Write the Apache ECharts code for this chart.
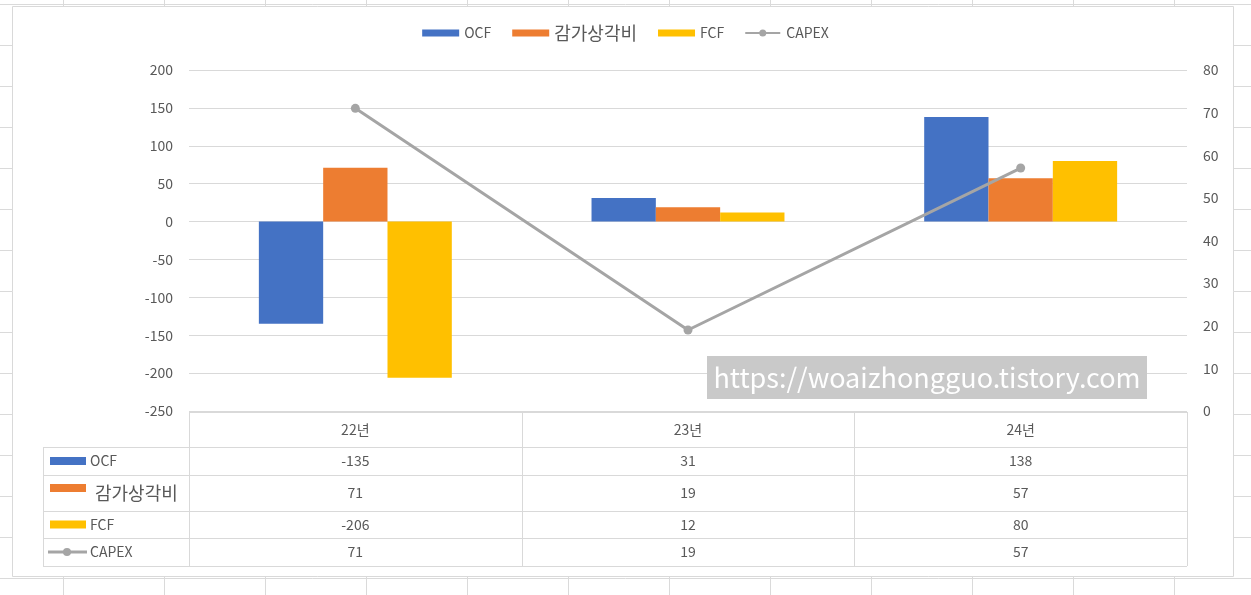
<!DOCTYPE html>
<html>
<head>
<meta charset="utf-8">
<script src="https://cdn.jsdelivr.net/npm/echarts@6/dist/echarts.min.js"></script>
<style>
  html, body { margin: 0; padding: 0; background: #fff; }
  #chart { width: 1251px; height: 595px; }
</style>
</head>
<body>
<div id="chart"></div>
<script>
// ---- data ----
const categories = ['22년', '23년', '24년'];
const seriesNames = ['OCF', '감가상각비', 'FCF', 'CAPEX'];
const ocf = [-135, 31, 138];
const depreciation = [71, 19, 57];
const fcf = [-206, 12, 80];
const capex = [71, 19, 57];
const leftAxis = { min: -250, max: 200, interval: 50 };
const rightAxis = { min: 0, max: 80, interval: 10 };
const watermark = 'https://woaizhongguo.tistory.com';

// ---- styling / layout ----
const COLORS = ['#4472C4', '#ED7D31', '#FFC000', '#A5A5A5'];
const TEXT = '#595959';
const LINE = '#D9D9D9';
const FONT = "'Noto Sans CJK KR', 'Noto Sans', sans-serif";
const PLOT_L = 189, PLOT_R = 1187, PLOT_T = 70, PLOT_B = 411;
const TABLE_KEY_L = 43;
const HEADER = [412, 447];
const ROWS = [[447, 475], [475, 511], [511, 538], [538, 566]];
const W = 1251, H = 595;
// line-with-marker key for the CAPEX legend entry
const LINE_MARKER_ICON = 'path://M0,2.8L40,2.8L40,5.2L0,5.2Z M16,4A4,4 0 1,1 24,4A4,4 0 1,1 16,4Z';

const chart = echarts.init(document.getElementById('chart'));
const graphics = [];

// spreadsheet cell grid behind the chart area
for (let y = 4; y < H; y += 41) {
  graphics.push({ type: 'line', z: -20, silent: true,
    shape: { x1: 0, y1: y + 0.5, x2: W, y2: y + 0.5 },
    style: { stroke: '#DADADA', lineWidth: 1 } });
}
for (let x = 63; x < W; x += 101) {
  graphics.push({ type: 'line', z: -20, silent: true,
    shape: { x1: x + 0.5, y1: 0, x2: x + 0.5, y2: H },
    style: { stroke: '#DADADA', lineWidth: 1 } });
}
// chart area
graphics.push({ type: 'rect', z: -10, silent: true,
  shape: { x: 12.5, y: 6.5, width: 1221, height: 570 },
  style: { fill: '#fff', stroke: LINE, lineWidth: 1 } });

// data table
const colW = (PLOT_R - PLOT_L) / categories.length;
function hline(y, x1, x2) {
  graphics.push({ type: 'line', z: 1, silent: true,
    shape: { x1: x1, y1: y + 0.5, x2: x2, y2: y + 0.5 },
    style: { stroke: LINE, lineWidth: 1 } });
}
function vline(x, y1, y2) {
  graphics.push({ type: 'line', z: 1, silent: true,
    shape: { x1: x + 0.5, y1: y1, x2: x + 0.5, y2: y2 },
    style: { stroke: LINE, lineWidth: 1 } });
}
hline(HEADER[0], PLOT_L, PLOT_R);
ROWS.forEach(r => hline(r[0], TABLE_KEY_L, PLOT_R));
hline(ROWS[ROWS.length - 1][1], TABLE_KEY_L, PLOT_R);
for (let i = 0; i <= categories.length; i++) {
  vline(Math.round(PLOT_L + i * colW), HEADER[0], ROWS[ROWS.length - 1][1]);
}
vline(TABLE_KEY_L, ROWS[0][0], ROWS[ROWS.length - 1][1]);

const tableValues = [ocf, depreciation, fcf, capex];
tableValues.forEach((vals, r) => {
  const cy = (ROWS[r][0] + ROWS[r][1]) / 2;
  const isKr = r === 1;
  // legend key
  if (r < 3) {
    const ky = isKr ? cy - 9 : cy - 4;
    graphics.push({ type: 'rect', z: 2, silent: true,
      shape: { x: 50, y: ky, width: 36, height: 8 },
      style: { fill: COLORS[r] } });
  } else {
    graphics.push({ type: 'line', z: 2, silent: true,
      shape: { x1: 48, y1: cy, x2: 87, y2: cy },
      style: { stroke: COLORS[3], lineWidth: 3 } });
    graphics.push({ type: 'circle', z: 3, silent: true,
      shape: { cx: 67, cy: cy, r: 4 },
      style: { fill: COLORS[3] } });
  }
  graphics.push({ type: 'text', z: 2, silent: true,
    x: isKr ? 95 : 90, y: cy,
    style: { text: seriesNames[r], fill: TEXT, font: (isKr ? '18px ' : '14px ') + FONT,
      verticalAlign: 'middle', align: 'left' } });
  vals.forEach((v, c) => {
    graphics.push({ type: 'text', z: 2, silent: true,
      x: PLOT_L + (c + 0.5) * colW, y: cy,
      style: { text: String(v), fill: TEXT, font: '14px ' + FONT,
        verticalAlign: 'middle', align: 'center' } });
  });
});

// blog address banner
graphics.push({ type: 'rect', z: 10, silent: true,
  shape: { x: 707, y: 356, width: 440, height: 43 },
  style: { fill: '#C9C9C9' } });
graphics.push({ type: 'text', z: 11, silent: true,
  x: 927, y: 378,
  style: { text: watermark, fill: '#fff', font: '27px ' + FONT,
    align: 'center', verticalAlign: 'middle' } });

const barBase = { type: 'bar', yAxisIndex: 0, barGap: '0%', barCategoryGap: '42%' };

chart.setOption({
  animation: false,
  textStyle: { fontFamily: FONT, color: TEXT },
  legend: {
    top: 19, left: 'center', itemWidth: 37, itemHeight: 7, itemGap: 21,
    textStyle: { color: TEXT, fontSize: 14, fontFamily: FONT },
    data: [
      { name: 'OCF', icon: 'rect' },
      { name: '감가상각비', icon: 'rect', textStyle: { fontSize: 18 } },
      { name: 'FCF', icon: 'rect' },
      { name: 'CAPEX', icon: LINE_MARKER_ICON, itemStyle: { color: COLORS[3] } }
    ]
  },
  grid: { left: PLOT_L, right: W - PLOT_R, top: PLOT_T, height: PLOT_B - PLOT_T, containLabel: false },
  xAxis: {
    type: 'category', data: categories,
    axisLine: { show: false }, axisTick: { show: false },
    axisLabel: { color: TEXT, fontSize: 14, margin: 19, verticalAlign: 'middle' }
  },
  yAxis: [
    { type: 'value', min: leftAxis.min, max: leftAxis.max, interval: leftAxis.interval,
      axisLine: { show: false }, axisTick: { show: false },
      axisLabel: { color: TEXT, fontSize: 14, margin: 16 },
      splitLine: { lineStyle: { color: LINE, width: 1 } } },
    { type: 'value', min: rightAxis.min, max: rightAxis.max, interval: rightAxis.interval,
      position: 'right',
      axisLine: { show: false }, axisTick: { show: false },
      axisLabel: { color: TEXT, fontSize: 14, margin: 16 },
      splitLine: { show: false } }
  ],
  series: [
    Object.assign({ name: seriesNames[0], data: ocf, itemStyle: { color: COLORS[0] } }, barBase),
    Object.assign({ name: seriesNames[1], data: depreciation, itemStyle: { color: COLORS[1] } }, barBase),
    Object.assign({ name: seriesNames[2], data: fcf, itemStyle: { color: COLORS[2] } }, barBase),
    { name: seriesNames[3], type: 'line', yAxisIndex: 1, data: capex,
      symbol: 'circle', symbolSize: 9,
      lineStyle: { color: COLORS[3], width: 3 },
      itemStyle: { color: COLORS[3] } }
  ],
  graphic: graphics
});
</script>
</body>
</html>
